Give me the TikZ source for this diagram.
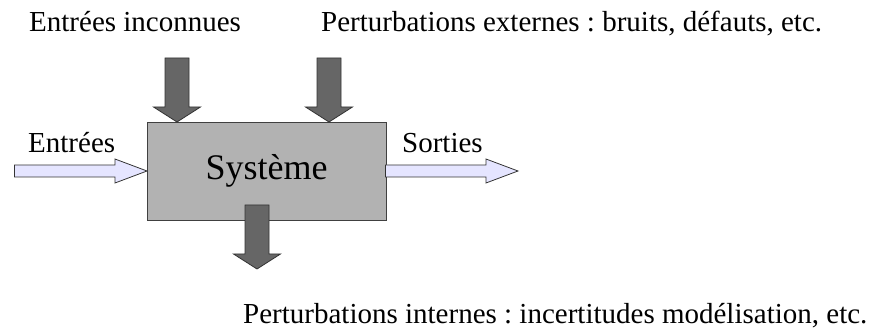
\documentclass[tikz,border=0pt]{standalone}
\usepackage{fontspec}
\setmainfont{Liberation Serif}
\frenchspacing
\usepackage{tikz}
\usetikzlibrary{calc}
\usetikzlibrary{positioning}
\tikzset{
    boite/.style={draw=black!75, fill=black!30, line width=0.8pt,
          minimum width=239pt, minimum height=98pt, inner sep=0pt, outer sep=0pt,
          font=\fontsize{36}{42}\selectfont},
    sombre/.style={draw=black!80, fill=black!60, line width=0.8pt, line join=miter},
    claire/.style={draw=black!80, fill=blue!10, line width=0.8pt, line join=miter},
    etiquette/.style={anchor=base west, inner sep=0pt,
          font=\fontsize{29}{34}\selectfont},
}
% grosses fleches : #1 = style, #2 = pointe
\newcommand{\flechebas}[2]{%
    \draw[#1] (#2) -- ++(23.5,15) -- ++(-11.5,0) -- ++(0,49) -- ++(-24,0)
        -- ++(0,-49) -- ++(-11.5,0) -- cycle;}
\newcommand{\flechedroite}[2]{%
    \draw[#1] (#2) -- ++(-32,12) -- ++(0,-6) -- ++(-100.5,0) -- ++(0,-12)
        -- ++(100.5,0) -- ++(0,-6) -- cycle;}

\begin{document}
\begin{tikzpicture}[x=1pt,y=1pt]
    \useasboundingbox (0,0) rectangle (885,331);
    \node[boite] (sys) at (266.5,160) {Système};
    \coordinate (sortie) at ($(sys.east)+(132,0)$);
    \coordinate (inconnue) at ($(sys.north west)+(30,0)$);
    \coordinate (externe) at ($(sys.north west)+(182,0)$);
    \coordinate (interne) at ($(sys.south west)+(110,-49)$);
    \flechedroite{claire}{sys.west}
    \flechedroite{claire}{sortie}
    \flechebas{sombre}{inconnue}
    \flechebas{sombre}{externe}
    \flechebas{sombre}{interne}
    %\node[etiquette] at (sys.south) {};
    \node[etiquette] (l-inconnues) at (29,299.5) {Entrées inconnues};
    \node[etiquette] (l-externes) at (321,299.5) {Perturbations externes : bruits, défauts, etc.};
    \node[etiquette] (l-entrees) at (28,178) {Entrées};
    \node[etiquette] (l-sorties) at (402,178) {Sorties};
    \node[etiquette] (l-internes) at (243,7) {Perturbations internes : incertitudes modélisation, etc.};
\end{tikzpicture}
\end{document}
